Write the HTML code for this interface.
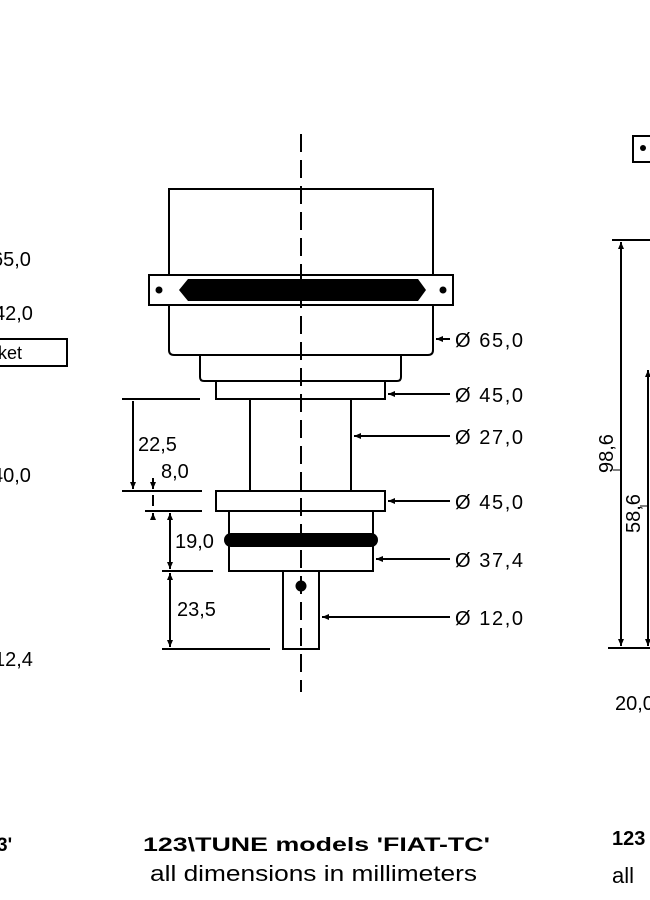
<!DOCTYPE html>
<html><head><meta charset="utf-8"><style>
html,body{margin:0;padding:0;background:#fff;width:650px;height:900px;overflow:hidden}
svg text{font-family:"Liberation Sans",Arial,sans-serif;fill:#000}
</style></head><body>
<svg width="650" height="900" viewBox="0 0 650 900" xmlns="http://www.w3.org/2000/svg">
<defs>
<marker id="a" markerWidth="8" markerHeight="8" refX="7" refY="4" orient="auto" markerUnits="userSpaceOnUse"><path d="M0,1 L7,4 L0,7 Z" fill="#000"/></marker>
</defs>
<g stroke="#000" stroke-width="2" fill="none">
<path d="M169,189 H433 V350 Q433,355 428,355 H174 Q169,355 169,350 Z"/>
<rect x="149" y="275" width="304" height="30" fill="#fff"/>
<path d="M200,355 V377 Q200,381 204,381 H397 Q401,381 401,377 V355"/>
<rect x="216" y="381" width="169" height="18"/>
<rect x="250" y="399" width="101" height="92"/>
<rect x="216" y="491" width="169" height="20"/>
<rect x="229" y="511" width="144" height="60"/>
<rect x="283" y="571" width="36" height="78"/>
<line x1="122" y1="399" x2="200" y2="399"/>
<line x1="122" y1="491" x2="202" y2="491"/>
<line x1="145" y1="511" x2="202" y2="511"/>
<line x1="162" y1="571" x2="213" y2="571"/>
<line x1="162" y1="649" x2="270" y2="649"/>
<line x1="133" y1="401" x2="133" y2="489" marker-end="url(#a)"/>
<line x1="153" y1="478" x2="153" y2="489" marker-end="url(#a)"/>
<line x1="153" y1="495" x2="153" y2="506"/>
<line x1="153" y1="520" x2="153" y2="513" marker-end="url(#a)"/>
<line x1="170" y1="530" x2="170" y2="513" marker-end="url(#a)"/>
<line x1="170" y1="530" x2="170" y2="569" marker-end="url(#a)"/>
<line x1="170" y1="610" x2="170" y2="573" marker-end="url(#a)"/>
<line x1="170" y1="610" x2="170" y2="647" marker-end="url(#a)"/>
<line x1="450" y1="339" x2="436" y2="339" marker-end="url(#a)"/>
<line x1="450" y1="394" x2="388" y2="394" marker-end="url(#a)"/>
<line x1="450" y1="436" x2="354" y2="436" marker-end="url(#a)"/>
<line x1="450" y1="501" x2="388" y2="501" marker-end="url(#a)"/>
<line x1="450" y1="559" x2="376" y2="559" marker-end="url(#a)"/>
<line x1="450" y1="617" x2="322" y2="617" marker-end="url(#a)"/>
<rect x="633" y="136" width="20" height="26"/>
<line x1="612" y1="240" x2="650" y2="240"/>
<line x1="608" y1="648" x2="650" y2="648"/>
<line x1="621" y1="400" x2="621" y2="242" marker-end="url(#a)"/>
<line x1="621" y1="400" x2="621" y2="646" marker-end="url(#a)"/>
<line x1="648" y1="500" x2="648" y2="370" marker-end="url(#a)"/>
<line x1="648" y1="500" x2="648" y2="646" marker-end="url(#a)"/>
<line x1="613" y1="470" x2="621" y2="470" stroke-width="1"/>
<line x1="640" y1="506" x2="648" y2="506" stroke-width="1"/>
<rect x="-2" y="339" width="69" height="27"/>
</g>
<path d="M188,279 H418 L426,290 L418,301 H188 L179,290 Z" fill="#000"/>
<rect x="224" y="533" width="154" height="14" rx="7" fill="#000"/>
<circle cx="159" cy="290" r="3.5" fill="#000"/>
<circle cx="443" cy="290" r="3.5" fill="#000"/>
<circle cx="301" cy="586" r="5.5" fill="#000"/>
<circle cx="643" cy="148" r="3" fill="#000"/>
<line x1="301" y1="134" x2="301" y2="692" stroke="#000" stroke-width="2" stroke-dasharray="18,8"/>
<g font-size="20">
<text x="455" y="347" textLength="68">Ø 65,0</text>
<text x="455" y="402" textLength="68">Ø 45,0</text>
<text x="455" y="444" textLength="68">Ø 27,0</text>
<text x="455" y="509" textLength="68">Ø 45,0</text>
<text x="455" y="567" textLength="68">Ø 37,4</text>
<text x="455" y="625" textLength="68">Ø 12,0</text>
<text x="138" y="451">22,5</text>
<text x="161" y="478">8,0</text>
<text x="175" y="548">19,0</text>
<text x="177" y="616">23,5</text>
<text x="-8" y="266">65,0</text>
<text x="-6" y="320">42,0</text>
<text x="-8" y="482">40,0</text>
<text x="-6" y="666">12,4</text>
<text x="615" y="710">20,0</text>
<text transform="translate(613,473) rotate(-90)">98,6</text>
<text transform="translate(640,533) rotate(-90)">58,6</text>
</g>
<text x="-2" y="359" font-size="18">ket</text>
<text x="-3" y="851" font-size="19" font-weight="bold">3'</text>
<text x="143" y="851" font-size="19" font-weight="bold" textLength="347" lengthAdjust="spacingAndGlyphs">123\TUNE models 'FIAT-TC'</text>
<text x="150" y="881" font-size="22" textLength="327" lengthAdjust="spacingAndGlyphs">all dimensions in millimeters</text>
<text x="612" y="845" font-size="20" font-weight="bold">123</text>
<text x="612" y="883" font-size="22">all</text>
</svg>
</body></html>
